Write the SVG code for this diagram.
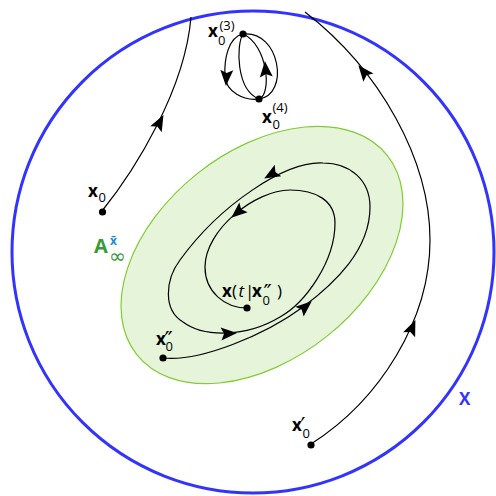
<svg xmlns="http://www.w3.org/2000/svg" xmlns:xlink="http://www.w3.org/1999/xlink" width="496" height="496" viewBox="0 0 496 496">
<style>
.traj{fill:none;stroke:#000;stroke-width:1.2}
.dot{fill:#000}
.ah{fill:#000}
.lb{font-family:"Open Sans","DejaVu Sans",sans-serif;fill:#000}
.bx{font-weight:bold;font-size:17px}
.sub{font-size:13px}
.pr{font-family:"DejaVu Sans",sans-serif;font-size:22px;fill:#000}
</style>
<defs>
<path id="ah" d="M1,0 L-15,-6.5 L-12,0 L-15,6.5 Z"/>
</defs>
<g id="domain">
<circle cx="253" cy="252" r="241" fill="none" stroke="#3333ff" stroke-width="3"/>
<text class="lb" x="459" y="405" font-size="17" font-weight="bold" style="fill:#3333ff">X</text>
</g>
<g id="attractor">
<ellipse cx="262" cy="255" rx="160" ry="104" transform="rotate(-38.5 262 255)" fill="#e6f4da" stroke="#80cc33" stroke-width="1.2"/>
<text class="lb" x="94" y="253" font-size="20" font-weight="bold" style="fill:#3a9a3a">A</text>
<text class="lb" x="110" y="245" font-size="12" font-weight="bold" style="fill:#2a88d0">x̄</text>
<text x="109" y="263" font-family="DejaVu Sans,sans-serif" font-size="20" fill="#3a9a3a">∞</text>
</g>
<g id="connectors">
<path id="t-x0" class="traj" d="M102,211 C135,170 185,90 191,17"/>
<path id="t-x0p" class="traj" d="M311,444 C380,400 430,320 430,240 C430,160 380,70 305,12"/>
<path id="t-loop-outer" class="traj" d="M243,34 C228,37 224,60 225,76 C226,92 244,101 259,99 C290,95 280,30 243,34 Z"/>
<path id="t-loop-inner" class="traj" d="M243,34 C236,45 236,90 259,99 C272,95 268,45 243,34 Z"/>
<path id="t-spiral" class="traj" d="M163,358 C200,362 265,335 303,307 C335,283 370,250 370,207 C370,180 350,163 323,163 C285,161 220,205 180,260 C165,280 163,310 183,322 C203,337 245,338 280,317 C305,303 335,262 335,223 C335,200 315,190 290,190 C255,190 205,230 205,267 C205,292 225,308 247,308"/>
<use xlink:href="#ah" class="ah" transform="translate(163,116) rotate(-62)"/>
<use xlink:href="#ah" class="ah" transform="translate(415,321) rotate(-67)"/>
<use xlink:href="#ah" class="ah" transform="translate(359,66) rotate(-129)"/>
<use xlink:href="#ah" class="ah" transform="translate(226,85) rotate(93)"/>
<use xlink:href="#ah" class="ah" transform="translate(265,62) rotate(-95)"/>
<use xlink:href="#ah" class="ah" transform="translate(311,302) rotate(-40)"/>
<use xlink:href="#ah" class="ah" transform="translate(265,178) rotate(150)"/>
<use xlink:href="#ah" class="ah" transform="translate(236,333) rotate(-4)"/>
<use xlink:href="#ah" class="ah" transform="translate(232,217) rotate(140)"/>
</g>
<g id="n-x0">
<circle class="dot" cx="102.5" cy="212" r="3.6"/>
<text class="lb bx" x="88" y="197">x</text>
<text class="lb sub" x="98.5" y="202">0</text>
</g>
<g id="n-x03">
<circle class="dot" cx="243" cy="34" r="3.6"/>
<text class="lb bx" x="208" y="37">x</text>
<text class="lb sub" x="218" y="45">0</text>
<text class="lb sub" x="219.5" y="30">(3)</text>
</g>
<g id="n-x04">
<circle class="dot" cx="259" cy="99" r="3.6"/>
<text class="lb bx" x="262" y="123">x</text>
<text class="lb sub" x="272.5" y="129">0</text>
<text class="lb sub" x="272.5" y="112">(4)</text>
</g>
<g id="n-x0p">
<circle class="dot" cx="311" cy="445" r="3.6"/>
<text class="lb bx" x="292" y="431">x</text>
<text class="lb sub" x="302.5" y="438">0</text>
<text class="pr" x="300.5" y="433">′</text>
</g>
<g id="n-x0pp">
<circle class="dot" cx="163" cy="358" r="3.6"/>
<text class="lb bx" x="156" y="345">x</text>
<text class="lb sub" x="165.5" y="351">0</text>
<text class="pr" x="164.5" y="347">″</text>
</g>
<g id="n-xt">
<circle class="dot" cx="247" cy="308" r="3.6"/>
<text class="lb bx" x="222" y="297">x</text>
<text class="lb" x="232" y="297" font-size="17">(</text>
<text class="lb" x="238.5" y="297" font-size="17" font-style="italic">t</text>
<text class="lb" x="245" y="297" font-size="17">|</text>
<text class="lb bx" x="252" y="297">x</text>
<text class="lb sub" x="262.5" y="305">0</text>
<text class="pr" x="263.5" y="300">″</text>
<text class="lb" x="277" y="297" font-size="17">)</text>
</g>
</svg>
